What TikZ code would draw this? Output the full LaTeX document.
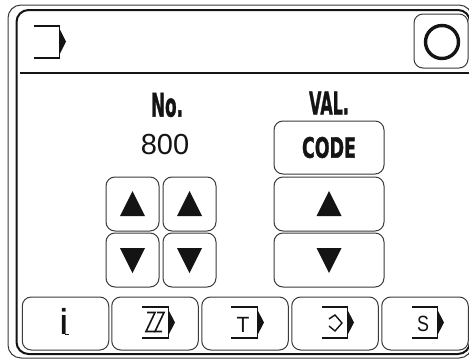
\documentclass[tikz,border=0pt]{standalone}
\usepackage{fontspec}
\setmainfont{Liberation Sans}
\newfontfamily\heavy[FakeBold=1.6]{DejaVu Sans Bold}
\definecolor{ink}{HTML}{141414}
\definecolor{rim}{HTML}{3A3A3A}
\tikzset{
  btn/.style={draw=rim,line width=1pt,rounded corners=9pt,inner sep=0pt,outer sep=0pt,text=ink},
  smallbtn/.style={btn,minimum width=53pt,minimum height=54pt},
  widebtn/.style={btn,minimum width=110pt,minimum height=54pt},
  barbtn/.style={btn,minimum width=86.5pt,minimum height=53pt},
  frameline/.style={draw=ink,line width=2pt},
  bracket/.style={draw=ink,line width=2pt},
  label/.style={inner sep=0pt,text=ink},
}
\newcommand{\condensed}[3]{\scalebox{#1}[1.08]{\fontsize{#2}{#2}\selectfont\heavy #3}}
\newcommand{\upmark}[1]{\fill[ink] ([shift={(-12.5,12)}]#1.center) -- ([shift={(0,-13)}]#1.center) -- ([shift={(12.5,12)}]#1.center) -- cycle;}
\newcommand{\downmark}[1]{\fill[ink] ([shift={(-12.5,-12)}]#1.center) -- ([shift={(0,13)}]#1.center) -- ([shift={(12.5,-12)}]#1.center) -- cycle;}
% bracket with arrow point, #1 = left x, #2 = top y, #3 = right x, #4 = bottom y, #5 = tip x
\newcommand{\flag}[5]{%
  \draw[bracket] (#1,#2) -- (#3+1,#2);
  \draw[bracket] (#1,#4) -- (#3+1,#4);
  \draw[ink,line width=1pt] (#3,#2) -- (#3,#4);
  \fill[ink] (#3,#2+2) -- (#5,{(#2+#4)/2}) -- (#3,#4-2) -- cycle;}
\begin{document}
\begin{tikzpicture}[x=1pt,y=-1pt]
\useasboundingbox (0,0) rectangle (469,359);
\clip (0,0) rectangle (469,359);
\fill[white] (0,0) rectangle (469,359);
% frames
\draw[draw=rim,line width=1pt,rounded corners=13pt] (8,5) rectangle (472,358);
\draw[frameline,rounded corners=12pt] (16.5,10) rectangle (470,354);
\draw[frameline] (20,72.5) -- (469,72.5);
% header
\flag{34}{25.5}{59}{57.5}{66}
\node[btn,minimum width=54pt,minimum height=54pt] (stop) at (441,41) {};
\node[draw=ink,line width=3.4pt,circle,minimum size=33pt,inner sep=0pt] (ring) at (442,42) {};
% labels
\node[label] (no) at (167,105) {\condensed{.56}{30pt}{No.}};
\node[label] (val) at (329,103) {\condensed{.55}{29pt}{VAL.}};
\node[label] (num) at (165,145) {\fontsize{29pt}{29pt}\selectfont 800};
% value buttons
\node[widebtn,minimum height=53pt] (code) at (329,147.5) {\condensed{.67}{26pt}{CODE}};
\node[widebtn] (vup) at (329,204) {};
\node[widebtn] (vdn) at (329,260) {};
\upmark{vup}
\downmark{vdn}
% number buttons
\node[smallbtn] (aup) at (132.5,204) {};
\node[smallbtn] (bup) at (189.5,204) {};
\node[smallbtn] (adn) at (132.5,260) {};
\node[smallbtn] (bdn) at (189.5,260) {};
\upmark{aup}\upmark{bup}
\downmark{adn}\downmark{bdn}
% bottom bar
\node[barbtn] (info) at (65.5,323.5) {};
\node[barbtn] (zz) at (155,323.5) {};
\node[barbtn] (tt) at (245,323.5) {};
\node[barbtn] (dia) at (335,323.5) {};
\node[barbtn] (ss) at (425,323.5) {};
% i
\node[label] (ilet) at (64,321.5) {\scalebox{.75}[1]{\fontsize{36pt}{36pt}\selectfont\bfseries i}};
\draw[ink,line width=1.6pt] (64.5,334.5) -- (69,334.5);
% ZZ icon
\flag{142}{307}{168}{338}{175}
\draw[ink,line width=1.6pt,line join=miter] (147,312.5) -- (155,312.5) -- (146,331.5) -- (155,331.5);
\draw[ink,line width=1.6pt,line join=miter] (157,312.5) -- (164,312.5) -- (155,331.5) -- (162,331.5);
% T icon
\flag{231}{307}{257}{338}{264}
\node[label] (tlet) at (243,324.5) {\scalebox{1}[1.05]{\fontsize{21pt}{21pt}\selectfont T}};
% diamond icon
\flag{322}{307}{347}{338}{354}
\draw[ink,line width=1.4pt] (329,319) -- (335,315) -- (342,323) -- (335,331) -- (329,326);
% S icon
\flag{412}{307}{437}{338}{444}
\node[label] (slet) at (423,323.5) {\scalebox{.85}[1.05]{\fontsize{21pt}{21pt}\selectfont S}};
\end{tikzpicture}
\end{document}
